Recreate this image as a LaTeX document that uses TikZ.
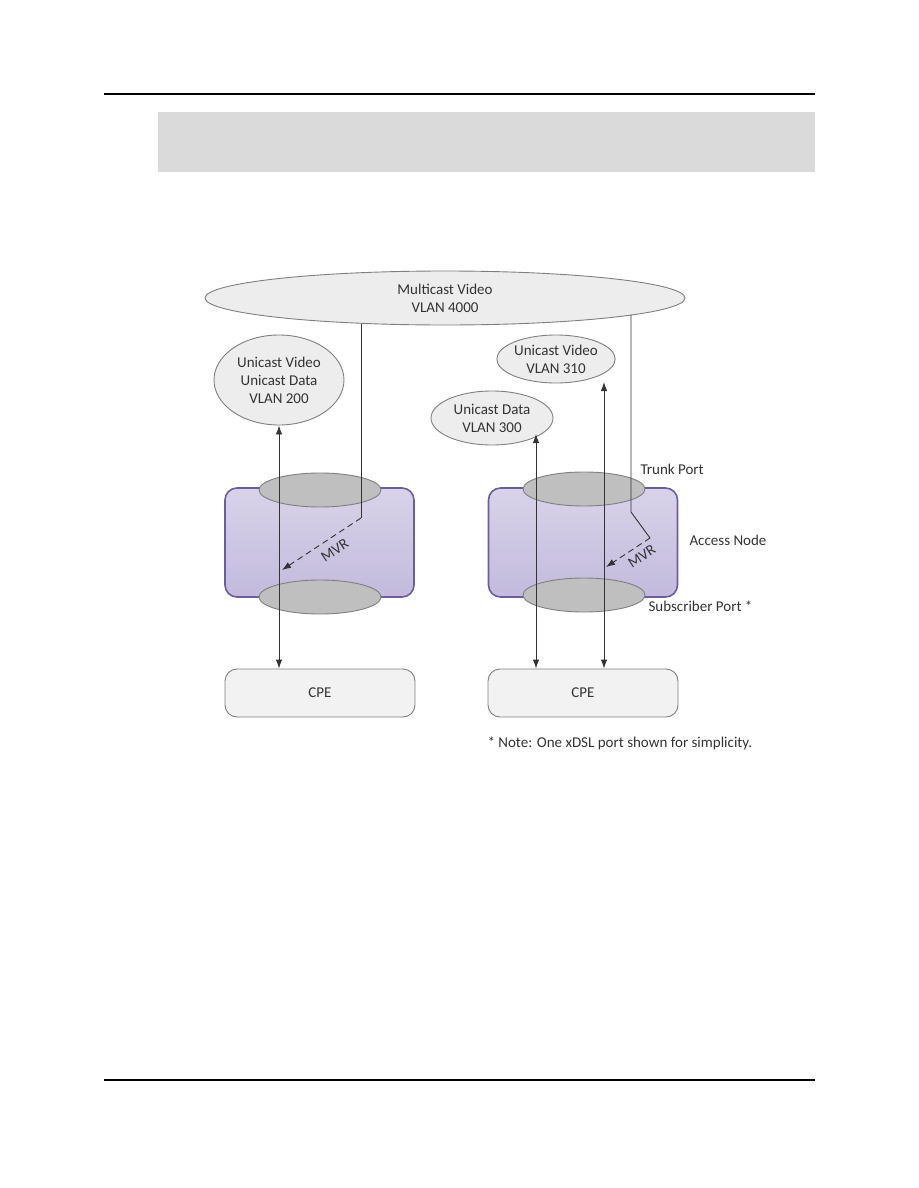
\documentclass[tikz,border=0pt]{standalone}
\usepackage{fontspec}
\setmainfont{Carlito}
\usetikzlibrary{shapes.geometric,arrows.meta}
\definecolor{inkgray}{HTML}{333333}
\definecolor{rimgray}{HTML}{7F7F7F}
\definecolor{vlanfill}{HTML}{EDEDED}
\definecolor{portfill}{HTML}{BFBFBF}
\definecolor{cpefill}{HTML}{F2F2F2}
\definecolor{nodeline}{HTML}{6B5CA5}
\definecolor{nodetop}{HTML}{D8D3E9}
\definecolor{nodebot}{HTML}{C3BADC}
\definecolor{bandgray}{HTML}{DADADA}

\begin{document}
\begin{tikzpicture}[x=1pt,y=-1pt,
    lbl/.style={font=\fontsize{15}{18}\selectfont, text=inkgray},
    vlan/.style={ellipse, draw=rimgray, line width=0.9pt, fill=vlanfill, inner sep=0pt, align=center, lbl},
    port/.style={ellipse, draw=rimgray, line width=0.9pt, fill=portfill, inner sep=0pt, minimum width=122pt, minimum height=34pt},
    anode/.style={draw=nodeline, line width=1.6pt, rounded corners=12pt, top color=nodetop, bottom color=nodebot, minimum width=189pt, minimum height=109pt},
    cpe/.style={draw=rimgray, line width=0.9pt, fill=cpefill, rounded corners=12pt, minimum width=190pt, minimum height=48pt, lbl},
    link/.style={draw=inkgray, line width=0.9pt},
    tip/.style={-{Latex[length=9pt,width=6.5pt]}},
    both/.style={{Latex[length=9pt,width=6.5pt]}-{Latex[length=9pt,width=6.5pt]}},
    mvr/.style={link, dash pattern=on 6pt off 4pt, tip}
  ]
  \useasboundingbox (0,0) rectangle (918,1188);

  \draw[line width=1.3pt] (104,94) -- (815,94);
  \fill[bandgray] (158,112) rectangle (815,172);
  \draw[line width=1.3pt] (104,1080) -- (815,1080);

  \node[vlan, minimum width=480pt, minimum height=54pt] (mcast) at (445,298) {Multicast Video\\VLAN 4000};
  \node[vlan, minimum width=130pt, minimum height=90pt] (uvd200) at (279,380) {Unicast Video\\Unicast Data\\VLAN 200};
  \node[vlan, minimum width=114pt, minimum height=48pt] (uv310) at (556,359) {Unicast Video\\VLAN 310};
  \node[vlan, minimum width=122pt, minimum height=54pt] (ud300) at (492,418) {Unicast Data\\VLAN 300};

  \node[anode] (anL) at (319.5,542.5) {};
  \node[anode] (anR) at (583,542.5) {};
  \node[port] (trunkL) at (320,490) {};
  \node[port] (subL) at (320,597) {};
  \node[port] (trunkR) at (584,489) {};
  \node[port] (subR) at (584,595) {};

  \node[cpe] (cpeL) at (320,693) {CPE};
  \node[cpe] (cpeR) at (583,693) {CPE};

  \node[lbl, anchor=west] (trunklbl) at (637,469) {Trunk Port};
  \node[lbl, anchor=west] (anodelbl) at (686,540) {Access Node};
  \node[lbl, anchor=west] (sublbl) at (645,606) {Subscriber Port *};
  \node[lbl, anchor=west] (note) at (484,743) {* Note: One xDSL port shown for simplicity.};

  \coordinate (a300) at (536,434);
  \coordinate (a310) at (604,382);
  \coordinate (kL) at (361,518);
  \coordinate (eL) at (282,570);
  \coordinate (kR) at (631,512);
  \coordinate (bR) at (650,538);
  \coordinate (eR) at (606,567);

  \draw[link, both] (uvd200.south) -- (uvd200.south |- cpeL.north);
  \draw[link, both] (a300) -- (a300 |- cpeR.north);
  \draw[link, both] (a310) -- (a310 |- cpeR.north);

  \draw[link] (mcast.-160 -| kL) -- (kL);
  \draw[mvr] (kL) -- node[lbl, pos=0.42, below=4pt, sloped] {MVR} (eL);
  \draw[link] (mcast.-5.2 -| kR) -- (kR) -- (bR);
  \draw[mvr] (bR) -- node[lbl, pos=0.32, below=2pt, sloped] {MVR} (eR);
\end{tikzpicture}
\end{document}
